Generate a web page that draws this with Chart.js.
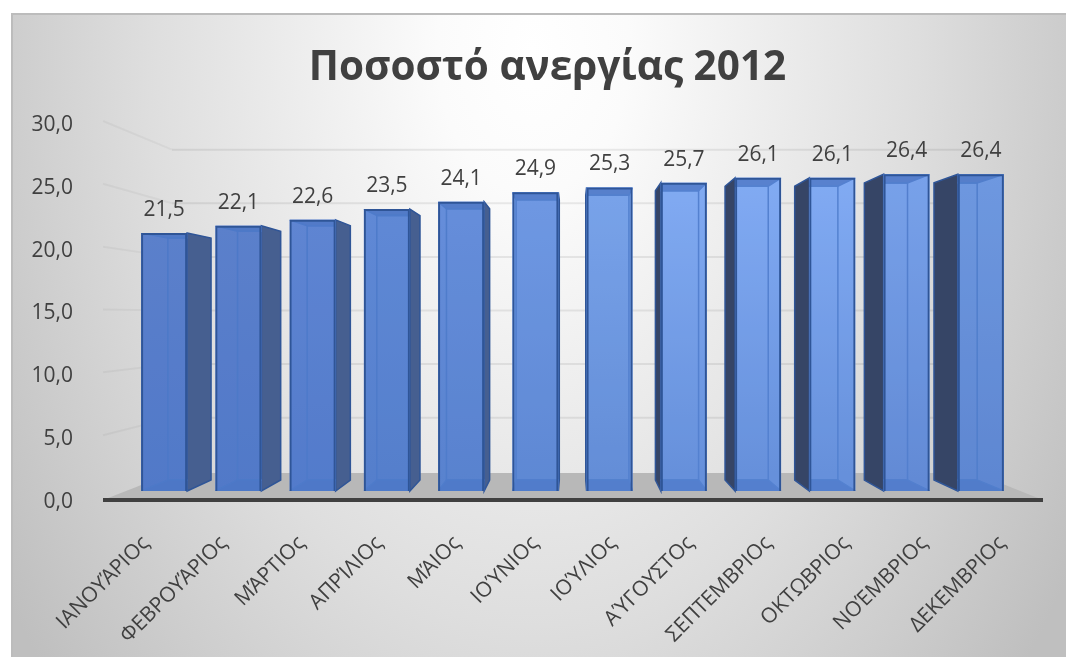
<!DOCTYPE html>
<html>
<head>
<meta charset="utf-8">
<title>Ποσοστό ανεργίας 2012</title>
<script src="https://cdn.jsdelivr.net/npm/chart.js@4"></script>
<style>
html, body { margin: 0; padding: 0; background: #fff; }
canvas { display: block; }
</style>
</head>
<body>
<canvas id="barChart" width="1066" height="657"></canvas>
<script>
const months = ['ΙΑΝΟΥΑ\u0301ΡΙΟς', 'ΦΕΒΡΟΥΑ\u0301ΡΙΟς', 'ΜΑ\u0301ΡΤΙΟς', 'ΑΠΡΙ\u0301ΛΙΟς', 'ΜΑ\u0301ΙΟς', 'ΙΟΥ\u0301ΝΙΟς',
    'ΙΟΥ\u0301ΛΙΟς', 'ΑΥ\u0301ΓΟΥΣΤΟς', 'ΣΕΠΤΕΜΒΡΙΟς', 'ΟΚΤΩΒΡΙΟς', 'ΝΟΕ\u0301ΜΒΡΙΟς', 'ΔΕΚΕΜΒΡΙΟς'];
const unemployment = [21.5, 22.1, 22.6, 23.5, 24.1, 24.9, 25.3, 25.7, 26.1, 26.1, 26.4, 26.4];
const axisTicks = [0, 5, 10, 15, 20, 25, 30];

// bar tints, left to right, light from the top right
const topTints = ['#5c80cc', '#5c80cc', '#5f85d2', '#6089d6', '#668edb', '#6f98e3', '#79a3ea', '#82abf2', '#82abf3', '#82abf3', '#78a2ea', '#6e98e0'];
const bottomTints = ['#4f78c8', '#4f78c8', '#5079c9', '#527cca', '#567fcc', '#5a84d0', '#5d87d2', '#5f89d4', '#5f89d4', '#5f89d4', '#5c85d0', '#5a82ce'];
const edgeBlue = '#2f5597';
const innerBlue = '#4a78c8';
const textGrey = '#404040';

// perspective of the bar depth
const depth = 0.062, vanishX = 573, vanishY = 314;
const fmt = v => v.toFixed(1).replace('.', ',');

function back(x, y) {
    return [x + depth * (vanishX - x), y + depth * (vanishY - y)];
}

function poly(c, pts, fill, stroke) {
    c.beginPath();
    pts.forEach((p, i) => i ? c.lineTo(p[0], p[1]) : c.moveTo(p[0], p[1]));
    c.closePath();
    if (fill) { c.fillStyle = fill; c.fill(); }
    if (stroke) { c.strokeStyle = stroke; c.lineWidth = 1.5; c.stroke(); }
}

// page background, side wall lines, back wall lines, floor
const wallPlugin = {
    id: 'wall',
    afterLayout(chart) {
        // title sits off the middle of the page
        chart.titleBlock.left = 58;
    },
    beforeDraw(chart) {
        const c = chart.ctx, w = chart.width, h = chart.height;
        c.save();
        c.fillStyle = '#fff';
        c.fillRect(0, 0, w, h);
        c.save();
        c.translate(533, 50);
        c.scale(1, 1.5);
        const g = c.createRadialGradient(0, 0, 0, 0, 0, 640);
        g.addColorStop(0, '#ffffff');
        g.addColorStop(0.15, '#fbfbfb');
        g.addColorStop(0.6, '#dedede');
        g.addColorStop(1, '#bfbfbf');
        c.fillStyle = g;
        c.fillRect(-522, -37 / 1.5, 1100, 800);
        c.restore();
        c.fillStyle = '#bcbcbc';
        c.fillRect(11, 13, w - 11, 2);
        c.fillRect(11, 13, 2, h - 13);

        const yFront = chart.scales.y, yBack = chart.scales.yBack;
        c.lineWidth = 2;
        axisTicks.slice(1).forEach(t => {
            c.strokeStyle = 'rgba(0,0,0,0.04)';
            c.beginPath();
            c.moveTo(103, yFront.getPixelForValue(t) - 2);
            c.lineTo(172, yBack.getPixelForValue(t));
            c.stroke();
            c.strokeStyle = 'rgba(0,0,0,0.075)';
            c.beginPath();
            c.moveTo(172, yBack.getPixelForValue(t));
            c.lineTo(975, yBack.getPixelForValue(t));
            c.stroke();
        });

        const floorFront = yFront.getPixelForValue(0), floorBack = 473;
        poly(c, [[103, floorFront], [172, floorBack], [975, floorBack], [1043, floorFront]], '#b8b8b8');
        c.restore();
    },
    afterDatasetsDraw(chart) {
        // axis line over the floor edge
        const c = chart.ctx, y0 = chart.scales.y.getPixelForValue(0);
        c.save();
        c.fillStyle = textGrey;
        c.fillRect(103, y0 - 2, 940, 4);
        c.restore();
    }
};

// rear box of each bar, the native bar is the see-through front face
const boxPlugin = {
    id: 'box',
    beforeDatasetsDraw(chart) {
        const c = chart.ctx;
        chart.getDatasetMeta(0).data.forEach((bar, i) => {
            const l = bar.x - bar.width / 2, r = bar.x + bar.width / 2, t = bar.y, b = bar.base;
            const tl = back(l, t), tr = back(r, t), bl = back(l, b), br = back(r, b);
            // outer faces first
            if (tr[0] > r) poly(c, [[r, t], tr, br, [r, b]], '#465f90', edgeBlue);
            if (tl[0] < l) poly(c, [[l, t], tl, bl, [l, b]], '#364566', edgeBlue);
            const g = c.createLinearGradient(0, t, 0, b);
            g.addColorStop(0, topTints[i]);
            g.addColorStop(1, bottomTints[i]);
            poly(c, [[l, t], [r, t], [r, b], [l, b]], g);
            // faces and edges seen through the glass, only inside the front
            c.save();
            c.beginPath();
            c.rect(l, t, r - l, b - t);
            c.clip();
            poly(c, [bl, br, [r, b], [l, b]], '#4a76c6', innerBlue);
            poly(c, [tl, tr, [r, t], [l, t]], '#4f78c6', innerBlue);
            poly(c, [tl, tr, br, bl], null, innerBlue);
            c.restore();
        });
    },
    afterDraw(chart) {
        const c = chart.ctx;
        c.save();
        c.fillStyle = textGrey;
        c.font = '21px "Open Sans"';
        c.textAlign = 'center';
        c.textBaseline = 'middle';
        chart.getDatasetMeta(0).data.forEach((bar, i) => {
            c.fillText(fmt(unemployment[i]), bar.x, bar.y - 23);
        });
        c.restore();
    }
};

const barCtx = document.getElementById('barChart').getContext('2d');
const barChart = new Chart(barCtx, {
    type: 'bar',
    data: {
        labels: months,
        datasets: [{
            label: 'Ποσοστό ανεργίας',
            data: unemployment.map((y, x) => ({ x, y })),
            xAxisID: 'xBar',
            yAxisID: 'yBar',
            barPercentage: 0.62,
            categoryPercentage: 1,
            borderColor: edgeBlue,
            borderWidth: 2,
            backgroundColor: ctx => topTints[ctx.dataIndex] + '30'
        }]
    },
    plugins: [wallPlugin, boxPlugin],
    options: {
        responsive: false,
        animation: false,
        layout: { padding: { left: 0, right: 29, top: 0, bottom: 0 } },
        plugins: {
            legend: { display: false },
            tooltip: { enabled: false },
            title: {
                display: true,
                text: 'Ποσοστό ανεργίας 2012',
                color: textGrey,
                font: { family: '"Open Sans"', size: 40.5, weight: '700', lineHeight: 1.2 },
                padding: { top: 44, bottom: 30.4 }
            }
        },
        scales: {
            x: {
                grid: { display: false },
                border: { display: false },
                ticks: {
                    color: textGrey,
                    font: { family: '"Open Sans"', size: 21 },
                    minRotation: 45,
                    maxRotation: 45,
                    labelOffset: 4,
                    padding: 23,
                    autoSkip: false
                },
                afterFit(scale) {
                    scale.height = 157;
                    scale.paddingLeft = 0;
                    scale.paddingRight = 0;
                }
            },
            // bars stand further in than the axis labels
            xBar: { type: 'linear', axis: 'x', display: false, offset: false, min: -0.823, max: 11.756 },
            y: {
                min: 0,
                max: 30,
                grid: { display: false },
                border: { display: false },
                afterBuildTicks(scale) { scale.ticks = axisTicks.map(value => ({ value })); },
                ticks: {
                    color: textGrey,
                    font: { family: '"Open Sans"', size: 21 },
                    padding: 22,
                    labelOffset: 2,
                    callback: v => fmt(v)
                },
                afterFit(scale) { scale.width = 103; }
            },
            yBar: { display: false, min: -0.75, max: 30.67 },
            // back wall lines sit further away
            yBack: { display: false, min: -2.68, max: 32.49 }
        }
    }
});
</script>
</body>
</html>
